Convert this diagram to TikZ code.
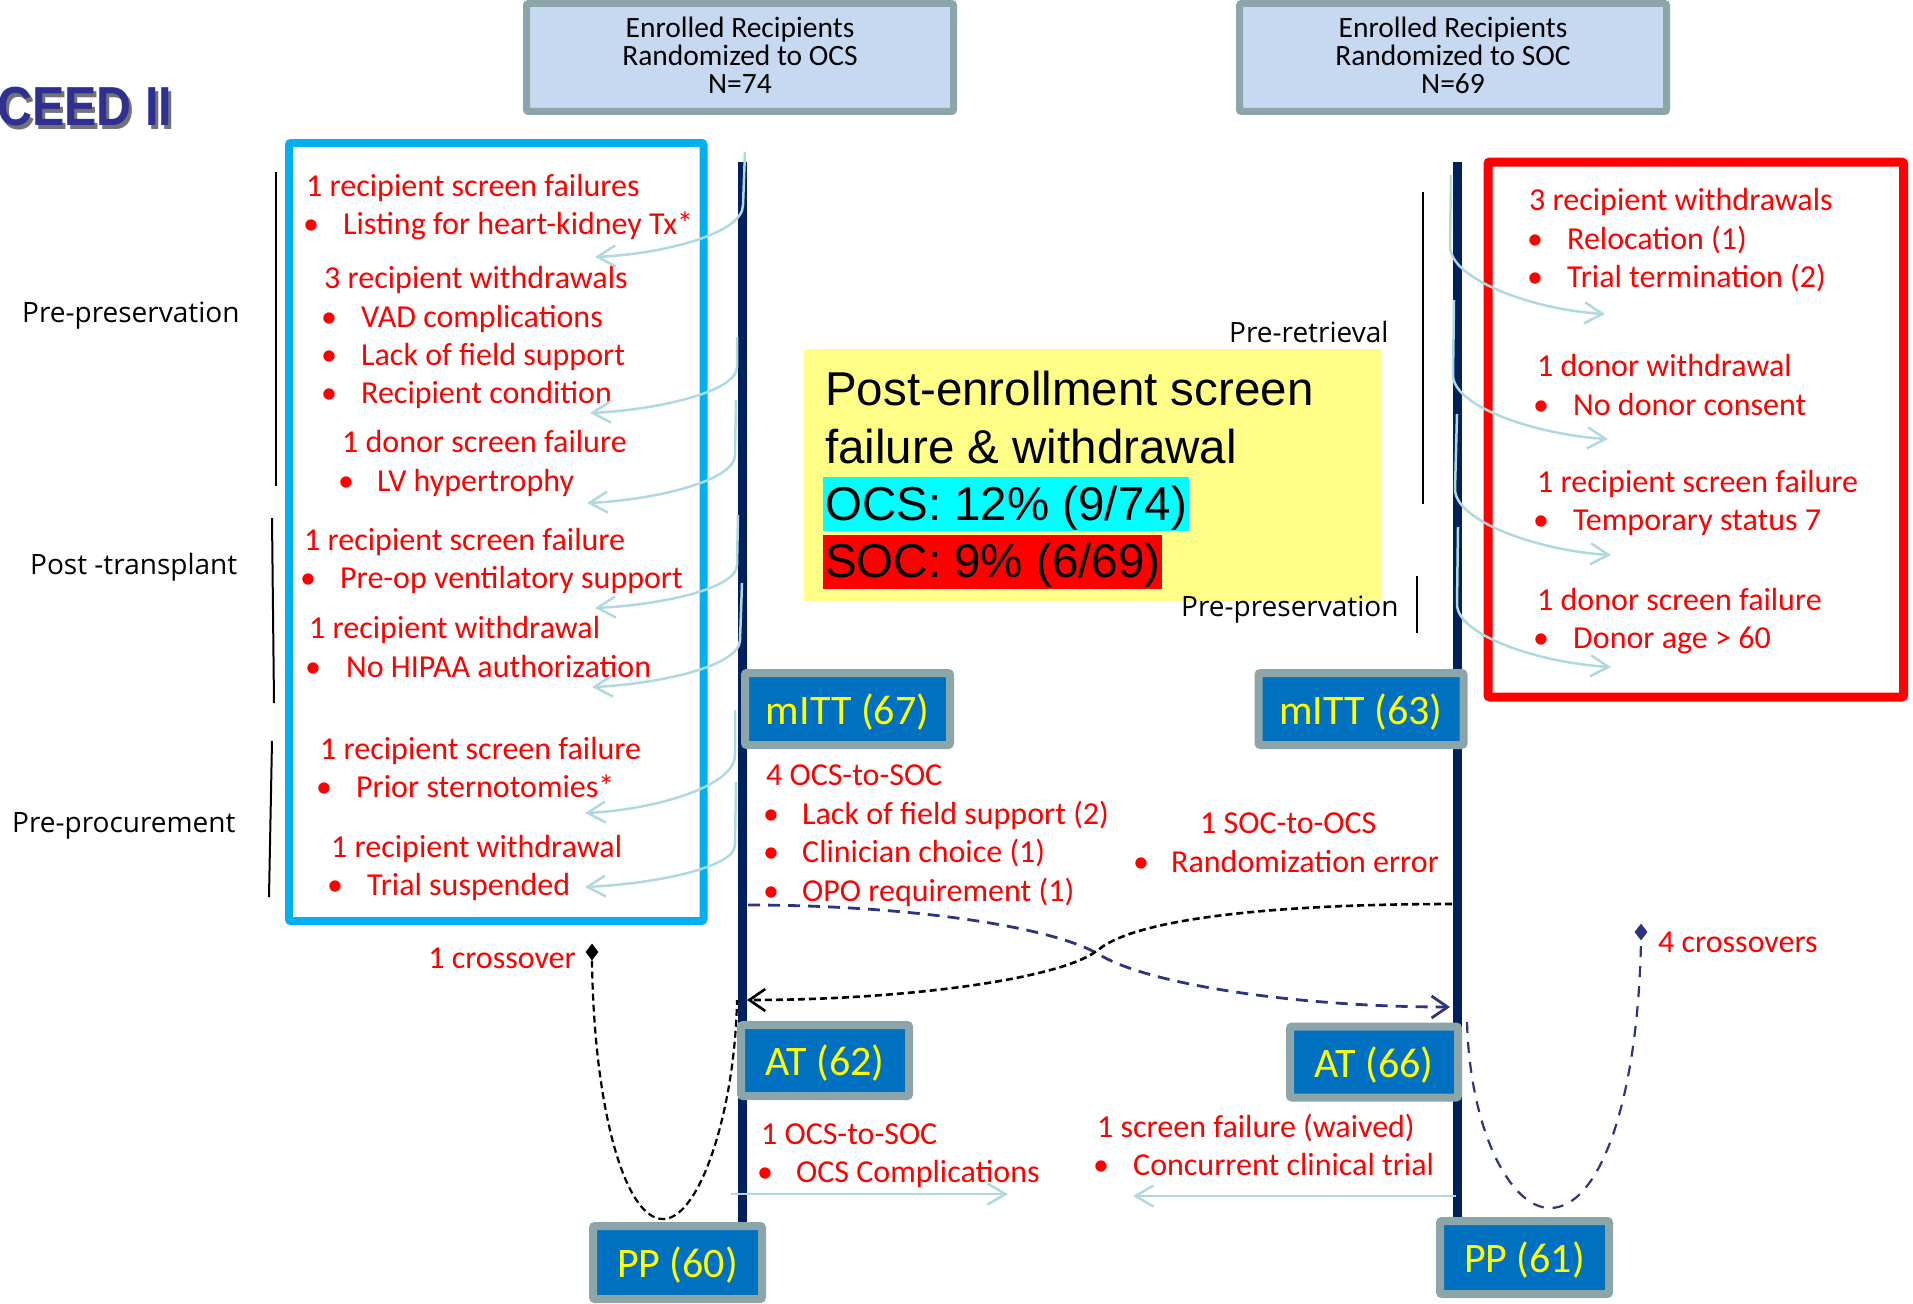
\documentclass[tikz,border=0pt]{standalone}
\usepackage{fontspec}
\setmainfont{Carlito}
\newfontfamily\arialfont{Liberation Sans}
\newfontfamily\stagefont{Open Sans}
\usetikzlibrary{arrows.meta,shapes.geometric}

\definecolor{navyline}{HTML}{002060}
\definecolor{boxblue}{HTML}{0070C0}
\definecolor{boxrim}{HTML}{8CA5A8}
\definecolor{headfill}{HTML}{C6D9F1}
\definecolor{framecyan}{HTML}{00B0F0}
\definecolor{flowlight}{HTML}{B0D9DF}
\definecolor{crossnavy}{HTML}{2E3580}
\definecolor{notepad}{HTML}{FFFF88}
\definecolor{titleblue}{HTML}{2E3192}
\definecolor{hicyan}{HTML}{00FFFF}
\definecolor{hired}{HTML}{FF0000}
\definecolor{counttext}{HTML}{FFFF00}
\definecolor{notered}{HTML}{FF0000}

\newcommand\lowstrut{\rule[-5pt]{0pt}{0pt}}

\begin{document}
\begin{tikzpicture}[x=1pt,y=-1pt,
  rtxt/.style={anchor=base west, inner sep=0pt, text=notered, font=\fontsize{32}{38}\selectfont},
  bul/.style={anchor=base, inner sep=0pt, text=notered, font=\fontsize{32}{38}\selectfont},
  stagelbl/.style={anchor=base west, inner sep=0pt, font=\stagefont\fontsize{28}{32}\selectfont},
  headbox/.style={draw=boxrim, line width=7pt, fill=headfill, rounded corners=2pt,
    minimum width=427pt, minimum height=108pt, align=center, inner sep=0pt,
    font=\fontsize{29.5}{28}\selectfont},
  countbox/.style={draw=boxrim, line width=8pt, fill=boxblue, rounded corners=2pt,
    text=counttext, inner sep=0pt, text height=38pt, text depth=8pt,
    font=\fontsize{42}{46}\selectfont},
  padtxt/.style={anchor=base west, inner sep=0pt, font=\arialfont\fontsize{47.5}{57}\selectfont},
  arm/.style={draw=navyline, line width=9pt},
  bracketline/.style={draw=black, line width=2pt},
  flow/.style={draw=flowlight, line width=2.5pt, -{Straight Barb[length=18pt,width=21pt]}},
  crossn/.style={draw=crossnavy, line width=2.8pt, dash pattern=on 12pt off 8pt},
  crossk/.style={draw=black, line width=2.6pt, dash pattern=on 7pt off 4pt},
  tipn/.style={-{Straight Barb[length=16pt,width=22pt]}},
  marker/.style={diamond, inner sep=0pt, minimum width=13pt, minimum height=17pt}
]
\useasboundingbox (0,0) rectangle (1913,1303);

% title with its shadow
\node[anchor=base west, inner sep=0pt, xscale=0.88, text=black!55,
  font=\arialfont\bfseries\fontsize{55}{60}\selectfont] (titleshadow) at (0,129) {CEED II};
\node[anchor=base west, inner sep=0pt, xscale=0.88, text=titleblue,
  font=\arialfont\bfseries\fontsize{55}{60}\selectfont] (title) at (-3,126) {CEED II};

% arm headers
\node[headbox] (ocshead) at (740,57.5) {Enrolled Recipients\\Randomized to OCS\\N=74\lowstrut};
\node[headbox] (sochead) at (1453,57.5) {Enrolled Recipients\\Randomized to SOC\\N=69\lowstrut};

% exclusion frames
\draw[framecyan, line width=8pt, rounded corners=2pt] (289,143) rectangle (703.5,921);
\draw[red, line width=9pt, rounded corners=2pt] (1488,162) rectangle (1903.5,697);

% arm timelines
\coordinate (ltop) at (742,162); \coordinate (lbot) at (742,1224);
\coordinate (rtop) at (1457,162); \coordinate (rbot) at (1457,1218);
\draw[arm] (ltop) -- (lbot);
\draw[arm] (rtop) -- (rbot);

% phase brackets
\coordinate (b1a) at (276,172); \coordinate (b1b) at (276,486);
\coordinate (b2a) at (272,518); \coordinate (b2b) at (274,703);
\coordinate (b3a) at (272,741); \coordinate (b3b) at (269,897);
\coordinate (b4a) at (1423,192); \coordinate (b4b) at (1423,504);
\coordinate (b5a) at (1417,576); \coordinate (b5b) at (1417,633);
\draw[bracketline] (b1a) -- (b1b);
\draw[bracketline] (b2a) -- (b2b);
\draw[bracketline] (b3a) -- (b3b);
\draw[bracketline] (b4a) -- (b4b);
\draw[bracketline] (b5a) -- (b5b);

% summary note
\node[fill=notepad, minimum width=578pt, minimum height=252pt, inner sep=0pt] (pad) at (1093,475) {};
\node[padtxt] (padl1) at (825,405) {Post-enrollment screen};
\node[padtxt] (padl2) at (825,463) {failure \& withdrawal};
\node[padtxt, fill=hicyan, inner xsep=2pt, text height=43pt, text depth=11pt] (padocs) at (823,520) {OCS: 12\% (9/74)};
\node[padtxt, fill=hired, inner xsep=2pt, text height=42pt, text depth=12pt] (padsoc) at (823,577) {SOC: 9\% (6/69)};

% phase labels
\node[stagelbl] (lblpres) at (22,322) {Pre-preservation};
\node[stagelbl] (lblpost) at (30,574) {Post -transplant};
\node[stagelbl] (lblproc) at (12,832) {Pre-procurement};
\node[stagelbl] (lblretr) at (1229,342) {Pre-retrieval};
\node[stagelbl] (lblpres2) at (1181,616) {Pre-preservation};

% OCS exclusions
\node[rtxt] (o1) at (306,196) {1 recipient screen failures};
\node[bul] (o1ab) at (311,234) {\textbullet};
\node[rtxt] (o1a) at (343,234) {Listing for heart-kidney Tx*};
\node[rtxt] (o2) at (324,288) {3 recipient withdrawals};
\node[bul] (o2ab) at (329,327) {\textbullet};
\node[rtxt] (o2a) at (361,327) {VAD complications};
\node[bul] (o2bb) at (329,365) {\textbullet};
\node[rtxt] (o2b) at (361,365) {Lack of field support};
\node[bul] (o2cb) at (329,403) {\textbullet};
\node[rtxt] (o2c) at (361,403) {Recipient condition};
\node[rtxt] (o3) at (342,452) {1 donor screen failure};
\node[bul] (o3ab) at (346,491) {\textbullet};
\node[rtxt] (o3a) at (377,491) {LV hypertrophy};
\node[rtxt] (o4) at (304,550) {1 recipient screen failure};
\node[bul] (o4ab) at (308,588) {\textbullet};
\node[rtxt] (o4a) at (340,588) {Pre-op ventilatory support};
\node[rtxt] (o5) at (309,638) {1 recipient withdrawal};
\node[bul] (o5ab) at (313,677) {\textbullet};
\node[rtxt] (o5a) at (346,677) {No HIPAA authorization};
\node[rtxt] (o6) at (320,759) {1 recipient screen failure};
\node[bul] (o6ab) at (324,797) {\textbullet};
\node[rtxt] (o6a) at (356,797) {Prior sternotomies*};
\node[rtxt] (o7) at (331,857) {1 recipient withdrawal};
\node[bul] (o7ab) at (335,895) {\textbullet};
\node[rtxt] (o7a) at (367,895) {Trial suspended};

% SOC exclusions
\node[rtxt] (s1) at (1529,210) {3 recipient withdrawals};
\node[bul] (s1ab) at (1535,249) {\textbullet};
\node[rtxt] (s1a) at (1567,249) {Relocation (1)};
\node[bul] (s1bb) at (1535,287) {\textbullet};
\node[rtxt] (s1b) at (1567,287) {Trial termination (2)};
\node[rtxt] (s2) at (1537,376) {1 donor withdrawal};
\node[bul] (s2ab) at (1541,415) {\textbullet};
\node[rtxt] (s2a) at (1573,415) {No donor consent};
\node[rtxt] (s3) at (1537,492) {1 recipient screen failure};
\node[bul] (s3ab) at (1541,530) {\textbullet};
\node[rtxt] (s3a) at (1573,530) {Temporary status 7};
\node[rtxt] (s4) at (1537,610) {1 donor screen failure};
\node[bul] (s4ab) at (1541,648) {\textbullet};
\node[rtxt] (s4a) at (1573,648) {Donor age > 60};

% crossover notes
\node[rtxt] (c1) at (766,785) {4 OCS-to-SOC};
\node[bul] (c1ab) at (771,824) {\textbullet};
\node[rtxt] (c1a) at (802,824) {Lack of field support (2)};
\node[bul] (c1bb) at (771,862) {\textbullet};
\node[rtxt] (c1b) at (802,862) {Clinician choice (1)};
\node[bul] (c1cb) at (771,901) {\textbullet};
\node[rtxt] (c1c) at (802,901) {OPO requirement (1)};
\node[rtxt] (c2) at (1200,833) {1 SOC-to-OCS};
\node[bul] (c2ab) at (1141,872) {\textbullet};
\node[rtxt] (c2a) at (1171,872) {Randomization error};
\node[rtxt, anchor=base east] (cx1) at (576,968) {1 crossover};
\node[rtxt] (cx4) at (1658,952) {4 crossovers};
\node[rtxt] (c3) at (761,1144) {1 OCS-to-SOC};
\node[bul] (c3ab) at (765,1182) {\textbullet};
\node[rtxt] (c3a) at (796,1182) {OCS Complications};
\node[rtxt] (c4) at (1097,1137) {1 screen failure (waived)};
\node[bul] (c4ab) at (1101,1175) {\textbullet};
\node[rtxt] (c4a) at (1133,1175) {Concurrent clinical trial};

% crossover paths between the arms
\coordinate (xn1) at (748,905); \coordinate (xnm) at (1100,955); \coordinate (xn2) at (1450,1007);
\coordinate (xk1) at (1452,904); \coordinate (xkm) at (1098,950); \coordinate (xk2) at (747,1000);
\draw[crossn, tipn] (xn1) .. controls (900,905) and (1050,925) .. (xnm)
  .. controls (1150,985) and (1300,1007) .. (xn2);
\draw[crossk, tipn] (xk1) .. controls (1300,904) and (1140,915) .. (xkm)
  .. controls (1060,980) and (900,1000) .. (xk2);

% crossover markers and loops
\node[marker, fill=black] (dia1) at (592,952) {};
\node[marker, fill=crossnavy] (dia4) at (1641,932) {};
\coordinate (u1) at (663,1219); \coordinate (u1e) at (737,1000);
\coordinate (u4) at (1550,1208); \coordinate (u4s) at (1467,1022);
\draw[crossk, line width=2.2pt] (dia1.south) .. controls (594,1110) and (625,1219) .. (u1)
  .. controls (700,1219) and (735,1110) .. (u1e);
\draw[crossn, line width=2.2pt, dash pattern=on 11pt off 9pt] (u4s) .. controls (1470,1130) and (1510,1208) .. (u4)
  .. controls (1600,1208) and (1638,1100) .. (dia4.south);

% flows out of the OCS arm
\coordinate (f1s) at (745,152); \coordinate (f1v) at (743,205); \coordinate (f1t) at (595,257);
\coordinate (f2s) at (737,337); \coordinate (f2v) at (737,367); \coordinate (f2t) at (590,413);
\coordinate (f3s) at (736,400); \coordinate (f3v) at (735,455); \coordinate (f3t) at (587,503);
\coordinate (f4s) at (738,515); \coordinate (f4v) at (737,565); \coordinate (f4t) at (595,608);
\coordinate (f5s) at (742,583); \coordinate (f5v) at (740,640); \coordinate (f5t) at (592,687);
\coordinate (f6s) at (735,710); \coordinate (f6v) at (735,755); \coordinate (f6t) at (585,813);
\coordinate (f7s) at (736,782); \coordinate (f7v) at (735,845); \coordinate (f7t) at (585,887);
\draw[flow] (f1s) -- (f1v) .. controls (743,234) and (662,254) .. (f1t);
\draw[flow] (f2s) -- (f2v) .. controls (737,392) and (656,410) .. (f2t);
\draw[flow] (f3s) -- (f3v) .. controls (735,481) and (654,500) .. (f3t);
\draw[flow] (f4s) -- (f4v) .. controls (737,589) and (659,605) .. (f4t);
\draw[flow] (f5s) -- (f5v) .. controls (740,666) and (659,684) .. (f5t);
\draw[flow] (f6s) -- (f6v) .. controls (735,787) and (652,810) .. (f6t);
\draw[flow] (f7s) -- (f7v) .. controls (735,868) and (652,884) .. (f7t);

% flows out of the SOC arm
\coordinate (g1s) at (1451,175); \coordinate (g1v) at (1450,246); \coordinate (g1t) at (1605,314);
\coordinate (g2s) at (1454,300); \coordinate (g2v) at (1453,375); \coordinate (g2t) at (1608,439);
\coordinate (g3s) at (1457,414); \coordinate (g3v) at (1455,489); \coordinate (g3t) at (1611,555);
\coordinate (g4s) at (1458,527); \coordinate (g4v) at (1457,604); \coordinate (g4t) at (1611,667);
\draw[flow] (g1s) -- (g1v) .. controls (1450,280) and (1535,310) .. (g1t);
\draw[flow] (g2s) -- (g2v) .. controls (1453,407) and (1538,435) .. (g2t);
\draw[flow] (g3s) -- (g3v) .. controls (1455,522) and (1541,551) .. (g3t);
\draw[flow] (g4s) -- (g4v) .. controls (1457,636) and (1541,663) .. (g4t);

% late flows
\coordinate (h1s) at (731,1194); \coordinate (h1t) at (1008,1194);
\coordinate (h2s) at (1456,1196); \coordinate (h2t) at (1133,1196);
\draw[flow] (h1s) -- (h1t);
\draw[flow] (h2s) -- (h2t);

% analysis populations
\node[countbox, minimum width=205pt, minimum height=72pt] (mitt1) at (847.5,709) {mITT (67)};
\node[countbox, minimum width=205pt, minimum height=72pt] (mitt2) at (1361,709) {mITT (63)};
\node[countbox, minimum width=168pt, minimum height=71pt] (at1) at (825,1060.5) {AT (62)};
\node[countbox, minimum width=168pt, minimum height=71pt] (at2) at (1374,1062) {AT (66)};
\node[countbox, minimum width=169pt, minimum height=73pt] (pp1) at (677.5,1262.5) {PP (60)};
\node[countbox, minimum width=169pt, minimum height=73pt] (pp2) at (1524.5,1257.5) {PP (61)};
\end{tikzpicture}
\end{document}
